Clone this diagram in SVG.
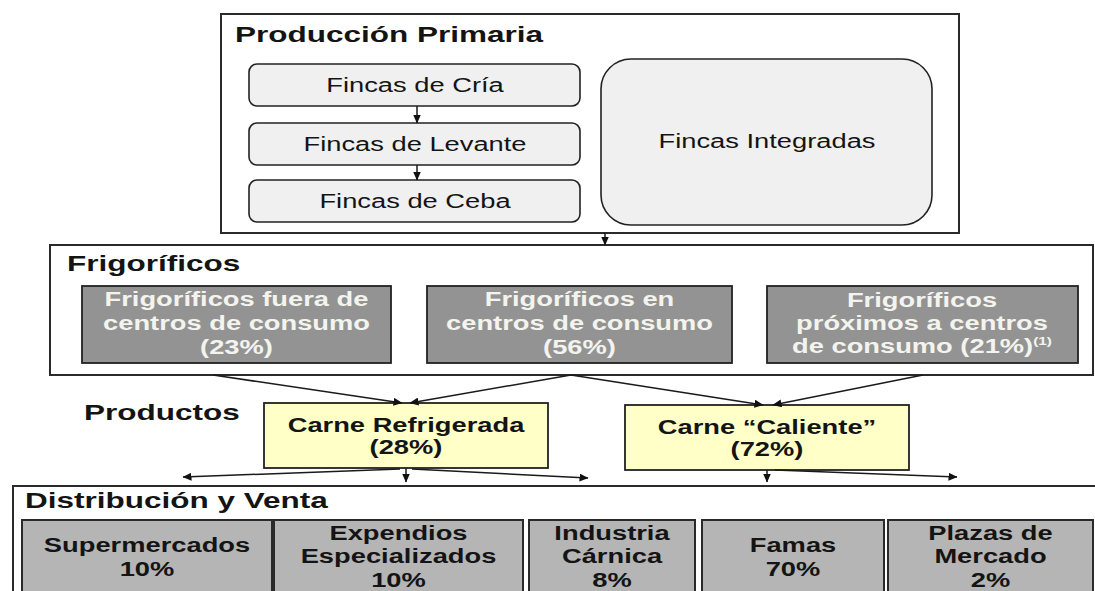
<svg xmlns="http://www.w3.org/2000/svg" width="1095" height="591" viewBox="0 0 1095 591">
<defs>
<style>
.frame{fill:#fff;stroke:#2a2a2a;stroke-width:2}
.finca{fill:#f0f0f0;stroke:#222;stroke-width:1.6}
.frig{fill:#939393;stroke:#222;stroke-width:1.8}
.prod{fill:#ffffc8;stroke:#222;stroke-width:1.8}
.cell{fill:#b5b5b5;stroke:#2a2a2a;stroke-width:2}
text{font-family:"Liberation Sans",Arial,sans-serif;fill:#141414}
.title{font-size:22.5px;font-weight:bold}
.reg{font-size:19.5px}
.bold{font-size:19.5px;font-weight:bold}
.light{fill:#f4f4ee}
.conn{stroke:#1a1a1a;stroke-width:1.5;fill:none}
</style>
<marker id="ah" markerWidth="9" markerHeight="8" refX="8.5" refY="4" orient="auto" markerUnits="userSpaceOnUse">
<path d="M0,0 L9,4 L0,8 z" fill="#111"/>
</marker>
</defs>

<g id="produccion">
<rect class="frame" x="221" y="14" width="738" height="219"/>
<text class="title" transform="translate(235 0) scale(1.4 1)" x="0" y="42">Producción Primaria</text>
</g>
<g id="fincas-cria">
<rect class="finca" x="249" y="64" width="331" height="42" rx="8"/>
<text class="reg" text-anchor="middle" transform="translate(415 0) scale(1.4 1)" x="0" y="92">Fincas de Cría</text>
</g>
<g id="fincas-levante">
<rect class="finca" x="249" y="123" width="331" height="42" rx="8"/>
<text class="reg" text-anchor="middle" transform="translate(415 0) scale(1.4 1)" x="0" y="151">Fincas de Levante</text>
</g>
<g id="fincas-ceba">
<rect class="finca" x="249" y="180" width="331" height="42" rx="8"/>
<text class="reg" text-anchor="middle" transform="translate(415 0) scale(1.4 1)" x="0" y="208">Fincas de Ceba</text>
</g>
<g id="fincas-integradas">
<rect class="finca" x="601" y="59" width="331" height="166" rx="30"/>
<text class="reg" text-anchor="middle" transform="translate(767 0) scale(1.4 1)" x="0" y="148">Fincas Integradas</text>
</g>

<g id="frigorificos">
<rect class="frame" x="50" y="245" width="1043" height="130"/>
<text class="title" transform="translate(67 0) scale(1.4 1)" x="0" y="271">Frigoríficos</text>
</g>
<g id="frig-fuera">
<rect class="frig" x="82" y="286" width="309" height="77"/>
<text class="bold light" text-anchor="middle" transform="translate(236.5 0) scale(1.4 1)"><tspan x="0" y="306">Frigoríficos fuera de</tspan><tspan x="0" y="330">centros de consumo</tspan><tspan x="0" y="354">(23%)</tspan></text>
</g>
<g id="frig-en">
<rect class="frig" x="427" y="286" width="305" height="77"/>
<text class="bold light" text-anchor="middle" transform="translate(579.5 0) scale(1.4 1)"><tspan x="0" y="306">Frigoríficos en</tspan><tspan x="0" y="330">centros de consumo</tspan><tspan x="0" y="354">(56%)</tspan></text>
</g>
<g id="frig-proximos">
<rect class="frig" x="767" y="286" width="311" height="77"/>
<text class="bold light" text-anchor="middle" transform="translate(922 0) scale(1.4 1)"><tspan x="0" y="307">Frigoríficos</tspan><tspan x="0" y="330">próximos a centros</tspan><tspan x="0" y="353">de consumo (21%)<tspan font-size="11" dy="-8">(1)</tspan></tspan></text>
</g>

<g id="productos-label">
<text class="title" transform="translate(84 0) scale(1.4 1)" x="0" y="420">Productos</text>
</g>
<g id="carne-refrigerada">
<rect class="prod" x="264" y="403" width="284" height="65"/>
<text class="bold" text-anchor="middle" transform="translate(406 0) scale(1.4 1)"><tspan x="0" y="432">Carne Refrigerada</tspan><tspan x="0" y="454">(28%)</tspan></text>
</g>
<g id="carne-caliente">
<rect class="prod" x="625" y="405" width="284" height="65"/>
<text class="bold" text-anchor="middle" transform="translate(767 0) scale(1.4 1)"><tspan x="0" y="434">Carne “Caliente”</tspan><tspan x="0" y="456">(72%)</tspan></text>
</g>

<g id="distribucion">
<rect class="frame" x="13" y="486" width="1100" height="120"/>
<text class="title" transform="translate(25 0) scale(1.4 1)" x="0" y="508">Distribución y Venta</text>
</g>
<g id="supermercados">
<rect class="cell" x="22" y="520" width="250" height="90"/>
<text class="bold" text-anchor="middle" transform="translate(147 0) scale(1.4 1)"><tspan x="0" y="552">Supermercados</tspan><tspan x="0" y="576">10%</tspan></text>
</g>
<g id="expendios">
<rect class="cell" x="274" y="520" width="249" height="90"/>
<text class="bold" text-anchor="middle" transform="translate(398.5 0) scale(1.4 1)"><tspan x="0" y="540">Expendios</tspan><tspan x="0" y="563">Especializados</tspan><tspan x="0" y="587">10%</tspan></text>
</g>
<g id="industria">
<rect class="cell" x="529" y="520" width="166" height="90"/>
<text class="bold" text-anchor="middle" transform="translate(612 0) scale(1.4 1)"><tspan x="0" y="540">Industria</tspan><tspan x="0" y="563">Cárnica</tspan><tspan x="0" y="587">8%</tspan></text>
</g>
<g id="famas">
<rect class="cell" x="702" y="520" width="182" height="90"/>
<text class="bold" text-anchor="middle" transform="translate(793 0) scale(1.4 1)"><tspan x="0" y="552">Famas</tspan><tspan x="0" y="576">70%</tspan></text>
</g>
<g id="plazas">
<rect class="cell" x="888" y="520" width="205" height="90"/>
<text class="bold" text-anchor="middle" transform="translate(990.5 0) scale(1.4 1)"><tspan x="0" y="540">Plazas de</tspan><tspan x="0" y="563">Mercado</tspan><tspan x="0" y="587">2%</tspan></text>
</g>

<g id="connectors">
<line class="conn" x1="417" y1="106" x2="417" y2="123" marker-end="url(#ah)"/>
<line class="conn" x1="417" y1="165" x2="417" y2="180" marker-end="url(#ah)"/>
<line class="conn" x1="605" y1="233" x2="605" y2="245" marker-end="url(#ah)"/>
<line class="conn" x1="213" y1="375" x2="402" y2="403" marker-end="url(#ah)"/>
<line class="conn" x1="571" y1="375" x2="410" y2="403" marker-end="url(#ah)"/>
<line class="conn" x1="571" y1="375" x2="763" y2="405" marker-end="url(#ah)"/>
<line class="conn" x1="923" y1="375" x2="773" y2="405" marker-end="url(#ah)"/>
<line class="conn" x1="400" y1="469" x2="183" y2="477" marker-end="url(#ah)"/>
<line class="conn" x1="406" y1="468" x2="406" y2="482" marker-end="url(#ah)"/>
<line class="conn" x1="412" y1="469" x2="588" y2="478" marker-end="url(#ah)"/>
<line class="conn" x1="767" y1="470" x2="767" y2="482" marker-end="url(#ah)"/>
<line class="conn" x1="775" y1="470" x2="957" y2="477" marker-end="url(#ah)"/>
</g>
</svg>
